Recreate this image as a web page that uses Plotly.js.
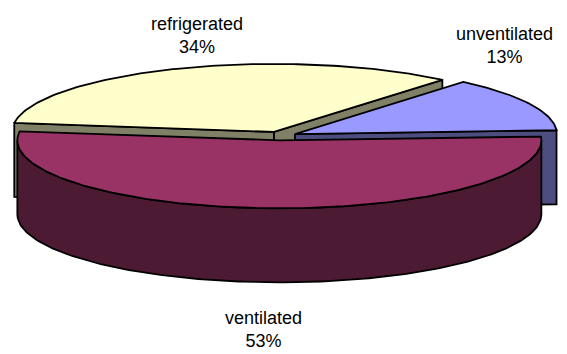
<!DOCTYPE html>
<html>
<head>
<meta charset="utf-8">
<script src="https://cdn.plot.ly/plotly-3.0.1.min.js"></script>
<style>
  html, body { margin: 0; padding: 0; background: #ffffff; }
  #chart { width: 567px; height: 354px; }
</style>
</head>
<body>
<div id="chart"></div>
<script>
// Storage type shares, listed counter-clockwise from the start angle.
const categories = ['unventilated', 'refrigerated', 'ventilated'];
const shares = [13, 34, 53];

// Slice styling: top face colour and the darker side colour.
const topColors  = ['#9999FF', '#FFFFCC', '#993366'];
const sideColors = ['#4D4D80', '#808066', '#4D1A33'];

// 3-D pie geometry in page pixels (y grows downward).
const CX = 280, CY = 136;      // centre of the pie's top plane
const RX = 262, RY = 68;       // horizontal / vertical radii of the top ellipse
const DEPTH = 74;              // thickness of the pie
const START_DEG = 3.2;         // angle where the first slice begins
const EXPLODE = 16.7;          // distance every slice is pulled out
const LABEL_POS = [[504, 45], [197, 35], [263, 329]];

const rad = d => d * Math.PI / 180;
const total = shares.reduce((a, b) => a + b, 0);

// Build the angular span of every slice from the shares.
let acc = START_DEG;
const slices = shares.map((v, i) => {
  const a0 = acc;
  const a1 = acc + v / total * 360;
  acc = a1;
  const mid = (a0 + a1) / 2;
  const ox = EXPLODE * Math.cos(rad(mid));
  const oy = -EXPLODE * Math.sin(rad(mid)) * RY / RX;
  return { i, a0, a1, mid, cx: CX + ox, cy: CY + oy };
});

function rim(s, deg, drop) {
  return [s.cx + RX * Math.cos(rad(deg)), s.cy - RY * Math.sin(rad(deg)) + drop];
}

function arc(s, from, to, drop) {
  const pts = [];
  const n = Math.max(2, Math.ceil(Math.abs(to - from)));
  for (let k = 0; k <= n; k++) {
    pts.push(rim(s, from + (to - from) * k / n, drop));
  }
  return pts;
}

function polyTrace(pts, fill) {
  return {
    type: 'scatter',
    mode: 'lines',
    x: pts.map(p => p[0]),
    y: pts.map(p => p[1]),
    fill: 'toself',
    fillcolor: fill,
    line: { color: '#000000', width: 1.8, shape: 'linear' },
    hoverinfo: 'skip',
    showlegend: false
  };
}

// Flat side created by cutting the slice along one radius.
function cutFace(s, deg) {
  const r = rim(s, deg, 0);
  return [[s.cx, s.cy], r, [r[0], r[1] + DEPTH], [s.cx, s.cy + DEPTH], [s.cx, s.cy]];
}

const traces = [];
// Paint from the back of the pie to the front.
const order = slices.slice().sort((a, b) => Math.sin(rad(b.mid)) - Math.sin(rad(a.mid)));
order.forEach(s => {
  // radial faces that turn toward the viewer
  if (Math.sin(rad(s.a0 - 90)) < 0) traces.push(polyTrace(cutFace(s, s.a0), sideColors[s.i]));
  if (Math.sin(rad(s.a1 + 90)) < 0) traces.push(polyTrace(cutFace(s, s.a1), sideColors[s.i]));

  // outer curved wall on the front half (180..360 degrees, also wrapped)
  [[180, 360], [540, 720]].forEach(([lo, hi]) => {
    const f = Math.max(lo, s.a0), t = Math.min(hi, s.a1);
    if (t - f > 0.01) {
      const top = arc(s, f, t, 0);
      const bottom = arc(s, t, f, DEPTH);
      traces.push(polyTrace(top.concat(bottom, [top[0]]), sideColors[s.i]));
    }
  });

  // top face
  const face = [[s.cx, s.cy]].concat(arc(s, s.a0, s.a1, 0), [[s.cx, s.cy]]);
  traces.push(polyTrace(face, topColors[s.i]));
});

const annotations = slices.map(s => ({
  x: LABEL_POS[s.i][0],
  y: LABEL_POS[s.i][1],
  xref: 'x', yref: 'y',
  text: categories[s.i] + '<br>' + Math.round(shares[s.i] / total * 100) + '%',
  showarrow: false,
  xanchor: 'center',
  yanchor: 'middle',
  align: 'center',
  font: { family: 'Liberation Sans, Arial, sans-serif', size: 18, color: '#000000' }
}));

const layout = {
  width: 567,
  height: 354,
  margin: { l: 0, r: 0, t: 0, b: 0 },
  paper_bgcolor: '#ffffff',
  plot_bgcolor: '#ffffff',
  xaxis: { range: [0, 567], visible: false, fixedrange: true },
  yaxis: { range: [354, 0], visible: false, fixedrange: true },
  annotations: annotations,
  showlegend: false
};

Plotly.newPlot('chart', traces, layout, { staticPlot: true, displayModeBar: false });
</script>
</body>
</html>
